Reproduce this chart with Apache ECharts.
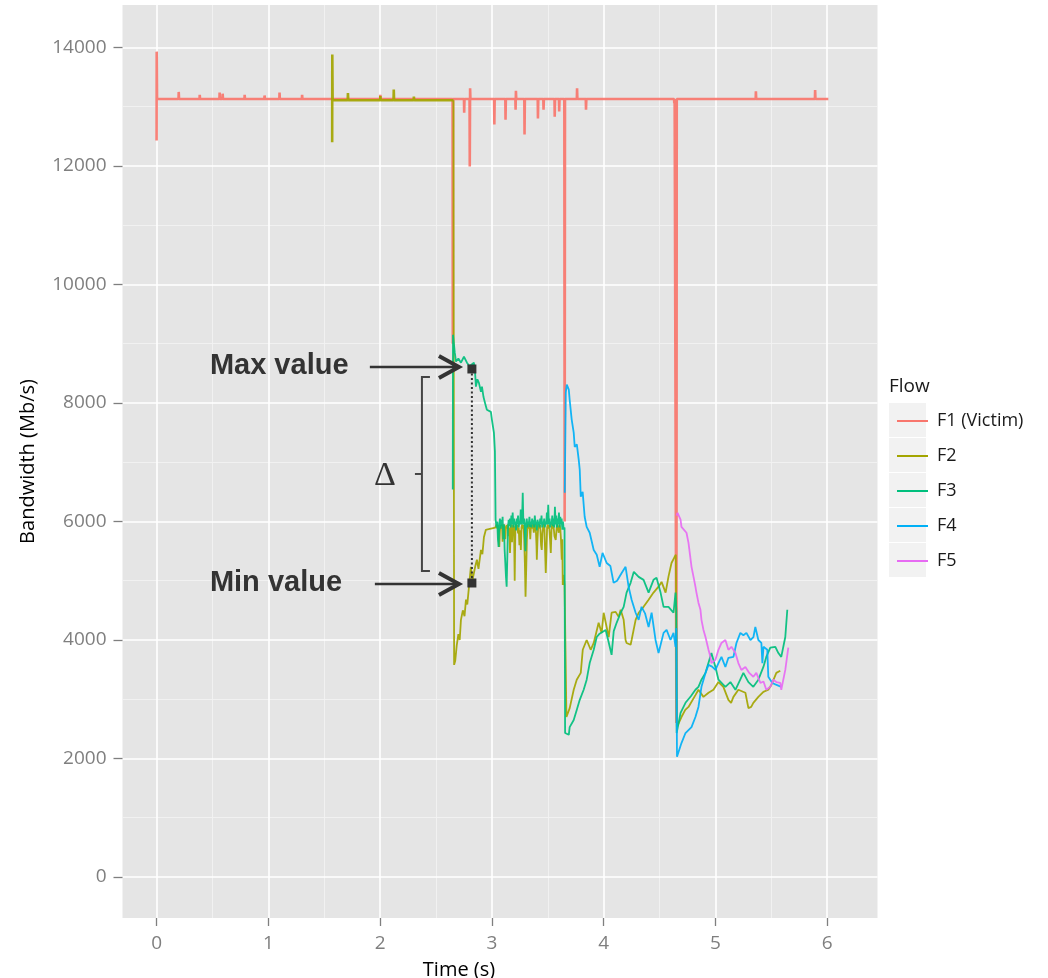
<!DOCTYPE html>
<html><head><meta charset="utf-8">
<script src="https://cdn.jsdelivr.net/npm/echarts@6/dist/echarts.min.js"></script>
<style>html,body{margin:0;padding:0;background:#fff}#c{width:1048px;height:978px}</style>
</head><body><div id="c"></div>
<script>
// ---------- data ----------
const xTicks = [0, 1, 2, 3, 4, 5, 6];
const xMinorTicks = [0.5, 1.5, 2.5, 3.5, 4.5, 5.5];
const yTicks = [0, 2000, 4000, 6000, 8000, 10000, 12000, 14000];
const yMinorTicks = [1000, 3000, 5000, 7000, 9000, 11000, 13000];
const flowNames = ['F1 (Victim)', 'F2', 'F3', 'F4', 'F5'];
const flowColors = ['#F8766D', '#A3A500', '#00BF7D', '#00B0F6', '#E76BF3'];

const f1 = [
[0.000,12430],[0.001,13930],[0.004,13130],
[0.196,13130],[0.198,13250],[0.201,13130],
[0.384,13130],[0.386,13200],[0.389,13130],
[0.562,13130],[0.564,13240],[0.567,13130],
[0.589,13130],[0.591,13220],[0.594,13130],
[0.786,13130],[0.788,13200],[0.791,13130],
[0.964,13130],[0.966,13190],[0.969,13130],
[1.098,13130],[1.100,13240],[1.103,13130],
[1.300,13130],[1.302,13200],[1.305,13130],
[2.000,13130],[2.002,13200],[2.005,13130],
[2.648,13130],[2.650,9000],[2.653,13130],
[2.750,13130],[2.752,12900],[2.755,13130],
[2.800,13130],[2.802,11990],[2.805,13310],[2.808,13130],
[3.020,13130],[3.022,12700],[3.025,13130],
[3.120,13130],[3.122,12780],[3.125,13130],
[3.210,13130],[3.212,12950],[3.215,13270],[3.218,13130],
[3.290,13130],[3.292,12530],[3.295,13130],
[3.410,13130],[3.412,12800],[3.415,13130],
[3.460,13130],[3.462,12950],[3.465,13130],
[3.560,13130],[3.562,12830],[3.565,13130],
[3.600,13130],[3.602,12920],[3.605,13130],
[3.648,13130],[3.651,6000],[3.654,13130],
[3.760,13130],[3.762,13310],[3.765,13130],
[3.840,13130],[3.842,12950],[3.845,13130],
[4.630,13130],[4.632,13060],[4.635,13130],
[4.648,13130],[4.651,2600],[4.654,13130],
[5.360,13130],[5.362,13260],[5.365,13130],
[5.890,13130],[5.892,13280],[5.895,13130],
[6.010,13130]
];

const f2Flat = [
[1.571,12400],[1.572,13880],[1.575,13110],
[1.710,13110],[1.712,13230],[1.715,13110],
[2.000,13110],[2.002,13180],[2.005,13110],
[2.120,13110],[2.122,13290],[2.125,13110],
[2.300,13110],[2.302,13170],[2.305,13110],
[2.656,13110]
];

const f2 = [
[2.656,13110],[2.662,3580],[2.672,3650],[2.685,3900],[2.700,4100],[2.712,4000],[2.723,4340],[2.740,4500],
[2.755,4400],[2.768,4680],[2.780,4600],[2.795,4900],[2.812,5235],[2.825,5000],[2.839,5130],[2.852,5250],
[2.866,5355],[2.880,5200],[2.902,5520],[2.915,5450],[2.929,5740],[2.946,5860],[2.970,5870],[2.991,5880],
[3.030,5895],[3.036,5895],[3.042,5950],[3.048,5880],[3.054,5940],[3.060,5700],[3.066,5570],[3.072,5850],
[3.078,5940],[3.084,5880],[3.090,5950],[3.096,5660],[3.102,5900],[3.108,5950],[3.114,5880],[3.120,5700],
[3.126,5900],[3.132,5940],[3.138,5880],[3.144,5950],[3.150,5750],[3.156,5900],[3.162,5470],[3.168,5880],
[3.174,5950],[3.180,5650],[3.186,5900],[3.192,5940],[3.198,5880],[3.204,5000],[3.210,5900],[3.216,5950],
[3.222,5880],[3.228,5940],[3.234,5800],[3.240,5900],[3.246,5600],[3.252,5850],[3.259,5520],[3.265,5900],
[3.271,5950],[3.277,5880],[3.283,5940],[3.289,5700],[3.295,5300],[3.301,4730],[3.307,5200],[3.313,5700],
[3.319,5900],[3.325,5950],[3.331,5880],[3.337,5950],[3.343,5700],[3.349,5900],[3.355,5940],[3.361,5880],
[3.367,5950],[3.375,5810],[3.381,5900],[3.387,5950],[3.393,5880],[3.399,5600],[3.402,5355],[3.408,5700],
[3.414,5900],[3.420,5950],[3.426,5880],[3.432,5940],[3.440,5600],[3.446,5520],[3.452,5800],[3.458,5900],
[3.464,5950],[3.470,5880],[3.476,5500],[3.482,5130],[3.488,5500],[3.494,5900],[3.500,5950],[3.506,5880],
[3.512,5940],[3.520,5700],[3.527,5470],[3.533,5850],[3.539,5950],[3.545,5880],[3.551,5940],[3.560,5750],
[3.571,5690],[3.580,5900],[3.586,5950],[3.592,5880],[3.598,5810],[3.606,5940],[3.612,5880],[3.618,5700],
[3.625,5355],[3.630,5700],[3.634,4930],[3.642,5100],[3.650,4930],[3.667,2700],[3.696,2850],[3.732,3160],
[3.759,3330],[3.795,3445],[3.813,3835],[3.848,4000],[3.884,3835],[3.911,3950],[3.955,4290],[3.982,4120],
[4.000,4460],[4.045,4050],[4.071,4460],[4.107,4475],[4.134,4390],[4.152,4510],[4.179,4340],[4.196,4000],
[4.205,3950],[4.241,3920],[4.250,4000],[4.286,4340],[4.313,4460],[4.357,4560],[4.402,4680],[4.446,4800],
[4.491,4900],[4.518,4980],[4.554,4800],[4.580,5070],[4.607,5300],[4.634,5400],[4.646,5440],[4.655,2530],
[4.696,2700],[4.730,2820],[4.759,2870],[4.821,3070],[4.848,3160],[4.893,3040],[4.938,3110],[4.982,3160],
[5.027,3290],[5.071,3210],[5.116,2990],[5.140,2940],[5.161,3040],[5.205,3160],[5.268,3110],[5.295,2850],
[5.320,2870],[5.339,2940],[5.384,3040],[5.429,3125],[5.473,3160],[5.500,3240],[5.545,3445],[5.580,3480]
];

const f3 = [
[2.650,6540],[2.652,9150],[2.668,8850],[2.679,8700],[2.700,8750],[2.723,8680],[2.750,8780],[2.777,8680],
[2.800,8620],[2.812,8650],[2.839,8680],[2.850,8500],[2.857,8275],[2.870,8400],[2.884,8340],[2.902,8190],
[2.911,8275],[2.925,8100],[2.938,8005],[2.955,7885],[2.970,7900],[2.991,7850],[3.000,7720],[3.018,7500],
[3.027,7180],[3.033,6030],[3.042,5900],[3.048,6000],[3.054,5700],[3.060,5570],[3.066,5950],[3.072,6050],
[3.078,5880],[3.084,6030],[3.090,5920],[3.096,6080],[3.102,5700],[3.108,5950],[3.114,5520],[3.120,5300],
[3.126,5065],[3.132,4900],[3.138,5400],[3.144,5900],[3.150,6030],[3.156,5920],[3.162,6050],[3.168,5900],
[3.174,6100],[3.180,5950],[3.186,6150],[3.192,5900],[3.198,6050],[3.204,5950],[3.210,6000],[3.216,5850],
[3.222,6050],[3.228,5950],[3.234,6100],[3.240,5900],[3.246,6000],[3.252,5950],[3.258,6200],[3.264,5950],
[3.270,6050],[3.276,6485],[3.282,5950],[3.288,6050],[3.294,5900],[3.300,5500],[3.306,5950],[3.312,6050],
[3.318,5900],[3.324,6000],[3.330,5950],[3.336,6080],[3.342,5910],[3.348,6000],[3.354,5900],[3.360,6050],
[3.366,5950],[3.372,6020],[3.378,5900],[3.384,6100],[3.390,5950],[3.396,6000],[3.402,5850],[3.408,6030],
[3.414,5950],[3.420,6000],[3.426,5900],[3.432,6050],[3.438,5950],[3.444,6100],[3.450,5900],[3.456,6000],
[3.462,5950],[3.468,6050],[3.474,5900],[3.480,6000],[3.486,5950],[3.492,6150],[3.498,5950],[3.504,6280],
[3.510,5950],[3.516,6050],[3.522,5900],[3.528,6000],[3.534,5950],[3.540,6100],[3.546,5920],[3.552,6050],
[3.558,5900],[3.564,6250],[3.570,5950],[3.576,6100],[3.582,5900],[3.588,6050],[3.594,5950],[3.600,6150],
[3.606,5900],[3.612,6080],[3.618,5950],[3.624,6050],[3.630,5860],[3.636,6000],[3.642,5860],[3.650,5900],
[3.655,2430],[3.688,2400],[3.696,2530],[3.732,2650],[3.759,2820],[3.786,2990],[3.821,3160],[3.848,3330],
[3.875,3610],[3.911,3835],[3.938,4050],[3.960,4100],[4.018,4170],[4.040,4000],[4.071,3750],[4.090,4150],
[4.116,4290],[4.152,4460],[4.179,4560],[4.205,4800],[4.241,4965],[4.270,5150],[4.313,5065],[4.357,5015],
[4.402,4800],[4.446,5015],[4.473,5050],[4.509,4800],[4.536,4560],[4.580,4560],[4.625,4460],[4.643,4800],
[4.650,4500],[4.653,2430],[4.688,2770],[4.732,2940],[4.780,3050],[4.821,3160],[4.848,3210],[4.875,3330],
[4.911,3445],[4.964,3780],[5.000,3545],[5.027,3330],[5.089,3210],[5.134,3290],[5.179,3160],[5.250,3445],
[5.295,3290],[5.339,3210],[5.384,3330],[5.429,3545],[5.455,3715],[5.491,3870],[5.536,3885],[5.563,3780],
[5.589,3715],[5.625,4050],[5.643,4510]
];

const f4 = [
[3.652,6485],[3.661,8175],[3.670,8310],[3.688,8225],[3.696,8050],[3.714,7720],[3.732,7500],[3.741,7260],
[3.760,7300],[3.777,7040],[3.786,6870],[3.795,6420],[3.812,6500],[3.830,6080],[3.848,5910],[3.875,5810],
[3.911,5520],[3.938,5440],[3.964,5235],[3.990,5470],[4.027,5300],[4.060,5250],[4.089,4965],[4.120,5000],
[4.161,5130],[4.196,5235],[4.223,4900],[4.250,4680],[4.286,4460],[4.313,4340],[4.339,4560],[4.370,4450],
[4.402,4220],[4.429,4460],[4.464,4000],[4.491,3780],[4.536,4120],[4.563,4170],[4.598,4000],[4.625,4120],
[4.643,3885],[4.650,4200],[4.656,2030],[4.696,2260],[4.732,2430],[4.786,2530],[4.821,2700],[4.848,2870],
[4.875,3210],[4.911,3445],[4.938,3580],[4.970,3550],[5.000,3495],[5.027,3610],[5.054,3715],[5.089,3545],
[5.116,3700],[5.161,3715],[5.188,3950],[5.223,4120],[5.250,4080],[5.277,4120],[5.313,4000],[5.340,4050],
[5.357,4220],[5.384,4000],[5.411,3950],[5.420,3610],[5.430,3885],[5.464,3835],[5.473,3380],[5.509,3275],
[5.536,3250],[5.589,3210]
];

const f5 = [
[4.652,6100],[4.661,6145],[4.688,6030],[4.696,5910],[4.741,5810],[4.759,5640],[4.786,5235],[4.804,5065],
[4.821,4900],[4.830,4800],[4.848,4630],[4.866,4510],[4.875,4340],[4.893,4170],[4.911,4050],[4.938,3835],
[4.955,3715],[4.964,3610],[5.000,3665],[5.027,3835],[5.054,3950],[5.089,4000],[5.116,3835],[5.143,3885],
[5.179,3780],[5.205,3610],[5.232,3495],[5.268,3545],[5.300,3450],[5.339,3380],[5.366,3445],[5.402,3275],
[5.430,3300],[5.455,3160],[5.491,3210],[5.518,3330],[5.545,3290],[5.580,3275],[5.589,3160],[5.625,3495],
[5.652,3870]
];

// annotation anchors (data coordinates)
const maxMarker = [2.821, 8574];
const minMarker = [2.821, 4962];
const maxArrow = [[1.908, 8608], [2.705, 8608]];
const minArrow = [[1.953, 4945], [2.705, 4945]];
const maxLabel = ['Max value', 0.477, 8625];
const minLabel = ['Min value', 0.477, 4962];
const braceAnchor = [2.374, 8439, 5165, 6802];
const deltaLabel = ['\u0394', 2.042, 6768];

// ---------- chart ----------
const X_MIN = -0.305, X_MAX = 6.45, Y_MIN = -692, Y_MAX = 14717;
const FONT = '"Open Sans", "DejaVu Sans", sans-serif';
const chart = echarts.init(document.getElementById('c'), null, {renderer: 'canvas'});

function lineSeries(name, data, color, width) {
  return {
    type: 'line', name, data, xAxisIndex: 0, yAxisIndex: 0,
    showSymbol: false, symbol: 'none', animation: false,
    lineStyle: {color, width, opacity: 0.92},
    itemStyle: {color}, emphasis: {disabled: true}
  };
}

chart.setOption({
  animation: false,
  backgroundColor: '#ffffff',
  grid: {left: 122.5, right: 170.5, top: 5, bottom: 60, show: true, backgroundColor: '#E5E5E5', borderWidth: 0,
         containLabel: false, outerBoundsMode: 'none'},
  xAxis: [
    {
      type: 'value', min: X_MIN, max: X_MAX, position: 'bottom', z: 1,
      axisLine: {show: false, onZero: false},
      axisTick: {show: true, length: 8, customValues: xTicks, lineStyle: {color: '#7f7f7f', width: 1.3}},
      axisLabel: {customValues: xTicks, color: '#7f7f7f', fontSize: 19, fontFamily: FONT, margin: 16, formatter: v => String(v)},
      splitLine: {show: true, lineStyle: {color: '#ffffff', width: 1.6}},
      name: 'Time (s)', nameLocation: 'middle', nameGap: 42,
      nameTextStyle: {color: '#000', fontSize: 20, fontFamily: FONT, padding: [0, 82, 0, 0]}
    },
    {
      type: 'value', min: X_MIN, max: X_MAX, position: 'top', z: 0,
      axisLine: {show: false, onZero: false}, axisLabel: {show: false},
      axisTick: {show: false, customValues: xMinorTicks},
      splitLine: {show: true, lineStyle: {color: '#F2F2F2', width: 0.9}}
    }
  ],
  yAxis: [
    {
      type: 'value', min: Y_MIN, max: Y_MAX, position: 'left', z: 1,
      axisLine: {show: false, onZero: false},
      axisTick: {show: true, length: 9, customValues: yTicks, lineStyle: {color: '#7f7f7f', width: 1.3}},
      axisLabel: {customValues: yTicks, color: '#7f7f7f', fontSize: 19, fontFamily: FONT, margin: 16, formatter: v => String(v)},
      splitLine: {show: true, lineStyle: {color: '#ffffff', width: 1.6}},
      name: 'Bandwidth (Mb/s)', nameLocation: 'middle', nameGap: 84,
      nameTextStyle: {color: '#000', fontSize: 20, fontFamily: FONT}
    },
    {
      type: 'value', min: Y_MIN, max: Y_MAX, position: 'right', z: 0,
      axisLine: {show: false, onZero: false}, axisLabel: {show: false},
      axisTick: {show: false, customValues: yMinorTicks},
      splitLine: {show: true, lineStyle: {color: '#F2F2F2', width: 0.9}}
    }
  ],
  legend: {
    data: flowNames, orient: 'vertical', left: 892, top: 406,
    icon: 'rect', itemWidth: 31, itemHeight: 2, itemGap: 15,
    selectedMode: false,
    textStyle: {color: '#1a1a1a', fontSize: 18, fontFamily: FONT, lineHeight: 20, padding: [0, 0, 0, 4]}
  },
  series: [
    lineSeries(flowNames[0], f1, flowColors[0], 2.6),
    lineSeries(flowNames[1], f2Flat, flowColors[1], 2.6),
    lineSeries(flowNames[1], f2, flowColors[1], 1.8),
    lineSeries(flowNames[2], f3, flowColors[2], 1.8),
    lineSeries(flowNames[3], f4, flowColors[3], 1.8),
    lineSeries(flowNames[4], f5, flowColors[4], 1.8)
  ]
});

// ---------- annotations placed through the axes ----------
function P(x, y) { return chart.convertToPixel({gridIndex: 0}, [x, y]); }
const INK = '#333333';
const g = [];
// legend title and key backgrounds
g.push({type: 'text', x: 889, y: 387, z: 10, style: {text: 'Flow', fill: '#1a1a1a', fontSize: 19, fontFamily: FONT, align: 'left', verticalAlign: 'middle'}});
for (let i = 0; i < flowNames.length; i++) {
  g.push({type: 'rect', z: -10, shape: {x: 889, y: 403 + i * 35, width: 37, height: 34}, style: {fill: '#F2F2F2'}});
}
function arrow(seg) {
  const a = P(seg[0][0], seg[0][1]), b = P(seg[1][0], seg[1][1]);
  g.push({type: 'line', z: 50, shape: {x1: a[0], y1: a[1], x2: b[0] - 2, y2: b[1]}, style: {stroke: INK, lineWidth: 2.5}});
  g.push({type: 'polyline', z: 50, shape: {points: [[b[0] - 20, b[1] - 11], [b[0], b[1]], [b[0] - 20, b[1] + 11]]}, style: {stroke: INK, lineWidth: 4, fill: null, lineJoin: 'miter'}});
}
arrow(maxArrow);
arrow(minArrow);
const pMax = P(maxMarker[0], maxMarker[1]), pMin = P(minMarker[0], minMarker[1]);
g.push({type: 'line', z: 50, shape: {x1: pMax[0], y1: pMax[1], x2: pMin[0], y2: pMin[1]}, style: {stroke: INK, lineWidth: 2, lineDash: [2, 2.5]}});
[pMax, pMin].forEach(p => g.push({type: 'rect', z: 51, shape: {x: p[0] - 4.5, y: p[1] - 4.5, width: 9, height: 9}, style: {fill: INK}}));
[maxLabel, minLabel].forEach(l => {
  const p = P(l[1], l[2]);
  g.push({type: 'text', z: 50, x: p[0], y: p[1], style: {text: l[0], fill: INK, fontSize: 29, fontWeight: 'bold', fontFamily: '"Liberation Sans", Arial, sans-serif', align: 'left', verticalAlign: 'middle'}});
});
const bTop = P(braceAnchor[0], braceAnchor[1]), bBot = P(braceAnchor[0], braceAnchor[2]), bMid = P(braceAnchor[0], braceAnchor[3]);
g.push({type: 'polyline', z: 50, shape: {points: [[bTop[0] + 8, bTop[1]], [bTop[0], bTop[1]], [bBot[0], bBot[1]], [bBot[0] + 8, bBot[1]]]}, style: {stroke: '#444', lineWidth: 2, fill: null}});
g.push({type: 'line', z: 50, shape: {x1: bMid[0] - 7, y1: bMid[1], x2: bMid[0], y2: bMid[1]}, style: {stroke: '#444', lineWidth: 2}});
const pD = P(deltaLabel[1], deltaLabel[2]);
g.push({type: 'text', z: 50, x: pD[0], y: pD[1], style: {text: deltaLabel[0], fill: INK, fontSize: 34, fontFamily: '"Liberation Serif", "DejaVu Serif", serif', align: 'center', verticalAlign: 'middle'}});

chart.setOption({graphic: {elements: g}});
</script>
</body></html>
